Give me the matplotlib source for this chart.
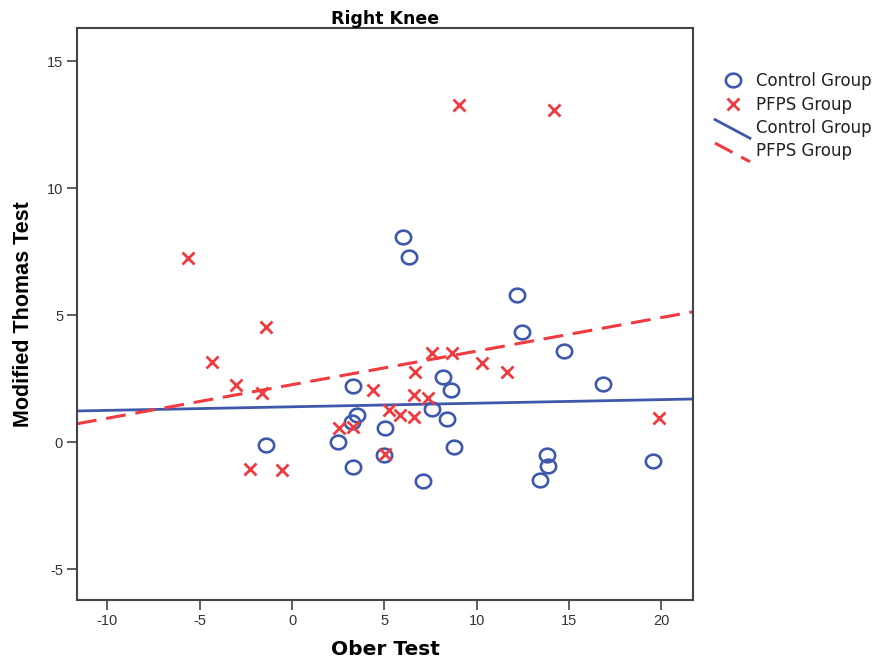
import numpy as np
import matplotlib
matplotlib.use("Agg")
import matplotlib.pyplot as plt
from matplotlib.lines import Line2D
from matplotlib.legend_handler import HandlerLine2D
from matplotlib.path import Path

plt.rcParams['font.family'] = ['Liberation Sans', 'DejaVu Sans']
plt.rcParams['axes.unicode_minus'] = False

# ---- data ----
control_x = [6.00, 6.34, 12.20, 12.46, 14.71, 16.82, 3.31, 8.20, 8.60, 3.52,
             3.24, 2.48, 3.32, 5.04, 5.00, 7.60, 8.38, 8.79, 7.08, -1.40,
             13.79, 13.88, 13.45, 19.57]
control_y = [8.06, 7.30, 5.80, 4.34, 3.60, 2.31, 2.22, 2.56, 2.06, 1.08,
             0.82, 0.00, -0.95, 0.56, -0.49, 1.32, 0.91, -0.20, -1.50, -0.10,
             -0.49, -0.91, -1.47, -0.75]
pfps_x = [9.05, 14.19, -5.61, -1.40, -4.34, -3.03, -1.64, -2.27, -0.52, 19.89,
          7.58, 8.65, 10.28, 11.63, 6.66, 4.40, 6.60, 7.39, 5.25, 5.85,
          6.60, 2.52, 3.28, 5.02]
pfps_y = [13.26, 13.06, 7.24, 4.55, 3.15, 2.26, 1.96, -1.05, -1.08, 0.95,
          3.50, 3.50, 3.11, 2.78, 2.76, 2.05, 1.88, 1.75, 1.28, 1.09,
          0.99, 0.58, 0.59, -0.45]

# fit lines (intercept, slope)
control_fit = [1.40, 0.0141]
pfps_fit = [2.27, 0.132]

x_ticks = [-10, -5, 0, 5, 10, 15, 20]
y_ticks = [-5, 0, 5, 10, 15]
xlim = (-11.65, 21.72)
ylim = (-6.2, 16.3)

blue = '#3e58ac'
red = '#ef3b3f'

# slightly wide ellipse marker like the reference's circles
t = np.linspace(0, 2 * np.pi, 61)
ellipse = Path(np.column_stack([1.12 * np.cos(t), np.sin(t)]), closed=True)

fig = plt.figure(figsize=(8.81, 6.63), dpi=100)
ax = fig.add_axes([77/881, 63/663, 616/881, 572/663])

ax.plot(control_x, control_y, linestyle='none', marker=ellipse, markersize=11,
        markerfacecolor='none', markeredgecolor=blue, markeredgewidth=1.9,
        label='Control Group', zorder=3)
ax.plot(pfps_x, pfps_y, linestyle='none', marker='x', markersize=8.5,
        markeredgecolor=red, markeredgewidth=2.0, label='PFPS Group', zorder=4)

xs = np.array(xlim)
ax.plot(xs, control_fit[0] + control_fit[1] * xs, color=blue, lw=2,
        label='Control Group', zorder=2)
ax.plot(xs, pfps_fit[0] + pfps_fit[1] * xs, color=red, lw=2.2,
        dashes=(6.5, 3.2), label='PFPS Group', zorder=2)

ax.set_xlim(*xlim)
ax.set_ylim(*ylim)
ax.set_xticks(x_ticks)
ax.set_yticks(y_ticks)
ax.tick_params(direction='out', length=7, width=1.2, color='#444444',
               labelsize=10.5, labelcolor='#333333', pad=3)
for s in ax.spines.values():
    s.set_color('#444444')
    s.set_linewidth(1.5)

ax.set_title('Right Knee', fontsize=12.5, fontweight='bold', pad=3,
             family=['DejaVu Sans'])
ax.set_xlabel('Ober Test', fontsize=14.5, fontweight='bold', labelpad=9,
              family=['DejaVu Sans'])
ax.set_ylabel('Modified Thomas Test', fontsize=15.5, fontweight='bold',
              labelpad=9)


class DiagHandler(HandlerLine2D):
    def create_artists(self, legend, orig_handle, xdescent, ydescent,
                       width, height, fontsize, trans):
        line = Line2D([-xdescent, -xdescent + width],
                      [height + 0.15 * height, -0.45 * height])
        self.update_prop(line, orig_handle, legend)
        line.set_transform(trans)
        return [line]


handles, labels = ax.get_legend_handles_labels()
hm = {handles[2]: DiagHandler(), handles[3]: DiagHandler()}
leg = fig.legend(handles, labels, loc='upper left',
                 bbox_to_anchor=(715/881, 1 - 72/663), frameon=False,
                 prop={'family': 'DejaVu Sans', 'size': 12},
                 handlelength=2.1, handletextpad=0.35,
                 labelspacing=0.33, handler_map=hm, borderpad=0,
                 borderaxespad=0)
for txt in leg.get_texts():
    txt.set_color('#222222')

fig.savefig('out.png', dpi=100)
